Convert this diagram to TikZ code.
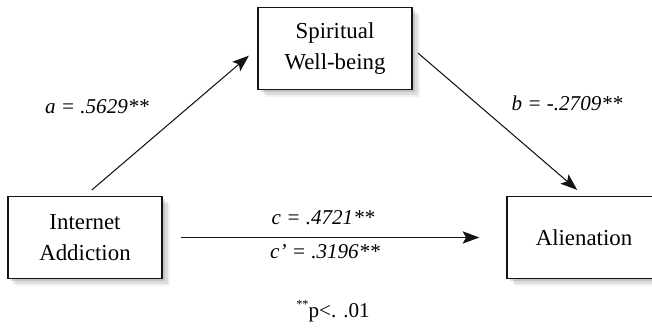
\documentclass[tikz,border=0pt]{standalone}
\usepackage{fontspec}
\setmainfont{Liberation Serif}
\usepackage{tikz}
\usetikzlibrary{arrows.meta, shadows}
\definecolor{mydark}{RGB}{20,20,20}
\definecolor{myshade}{RGB}{90,90,90}
\tikzset{
  varbox/.style={rectangle, draw=mydark, fill=white, line width=0.8pt,
    minimum width=3.08cm, minimum height=1.64cm, align=center,
    font=\fontsize{13}{18}\selectfont,
    drop shadow={shadow xshift=0.16cm, shadow yshift=-0.16cm, opacity=0.08, fill=myshade},
    drop shadow={shadow xshift=0.11cm, shadow yshift=-0.11cm, opacity=0.14, fill=myshade},
    drop shadow={shadow xshift=0.06cm, shadow yshift=-0.06cm, opacity=0.20, fill=myshade}},
  coef/.style={font=\fontsize{12}{14}\selectfont\itshape, inner sep=1pt},
  path/.style={-{Stealth[length=9.5pt, width=7pt, inset=2pt]}, line width=0.6pt, color=mydark}
}
\begin{document}
\begin{tikzpicture}
  \useasboundingbox (0,0) rectangle (13.04,6.64);
  % variables
  \node[varbox] (swb) at (6.70,5.67) {Spiritual\\Well-being};
  \node[varbox] (ia) at (1.70,1.89) {Internet\\Addiction};
  \node[varbox] (al) at (11.68,1.89) {Alienation};
  % paths
  \draw[path, shorten <=0.18cm, shorten >=0.22cm] (ia.north) -- (swb.west);
  \draw[path, shorten <=0.14cm, shorten >=0.18cm] (swb.east) -- (al.north);
  \draw[path, shorten <=0.36cm, shorten >=0.54cm] (ia.east) -- (al.west);
  % coefficients
  \node[coef] (acoef) at (1.94,4.50) {a = .5629**};
  \node[coef] (bcoef) at (11.34,4.58) {b = -.2709**};
  \node[coef] (ccoef) at (6.46,2.28) {c = .4721**};
  \node[coef] (cpcoef) at (6.50,1.60) {c’ = .3196**};
  % note
  \node[font=\fontsize{12}{14}\selectfont] (note) at (6.66,0.42)
    {\raisebox{0.9ex}{\fontsize{7}{8}\selectfont**}p<. .01};
\end{tikzpicture}
\end{document}
